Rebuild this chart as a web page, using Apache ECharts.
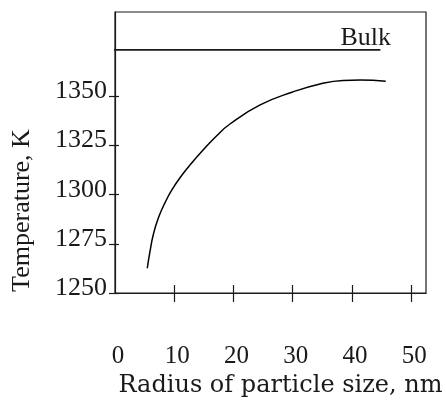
<!DOCTYPE html>
<html>
<head>
<meta charset="utf-8">
<script src="https://cdn.jsdelivr.net/npm/echarts@6/dist/echarts.min.js"></script>
<style>
html,body{margin:0;padding:0;background:#fff;}
#c{width:446px;height:403px;}
</style>
</head>
<body>
<div id="c"></div>
<script>
// Data
const radius = [5.45, 5.9, 6.45, 7.3, 8.45, 9.6, 11.25, 12.95, 14.65, 17.0, 19.4, 24.5, 30.0, 34.6, 38.5, 41.4, 45.7];
const temperature = [1262.6, 1271.0, 1279.5, 1288.0, 1296.0, 1302.5, 1309.8, 1316.2, 1322.0, 1329.5, 1336.0, 1345.7, 1352.3, 1356.4, 1358.2, 1358.4, 1357.7];
const bulkRadius = [-0.8, 44.8];
const bulkTemperature = [1373.7, 1373.7];
const bulkLabel = 'Bulk';
const xTickValues = [10, 20, 30, 40, 50];
const xLabelValues = [0, 10, 20, 30, 40, 50];
const yTickValues = [1250, 1275, 1300, 1325, 1350];
const xName = 'Radius of particle size, nm';
const yName = 'Temperature, K';

const curveData = radius.map((r, i) => [r, temperature[i]]);
const bulkData = bulkRadius.map((r, i) => [r, bulkTemperature[i]]);

const serif = '"Liberation Serif", "Times New Roman", serif';
const ink = '#1a1a1a';

const xBase = {type: 'value', min: 0, max: 52.5, splitLine: {show: false}};
const yBase = {type: 'value', min: 1250, max: 1393, splitLine: {show: false}};

const chart = echarts.init(document.getElementById('c'), null, {renderer: 'canvas'});
chart.setOption({
  backgroundColor: '#fff',
  animation: false,
  grid: {left: 115, right: 20, top: 12, bottom: 110, show: true, borderColor: ink, borderWidth: 1.2},
  xAxis: [
    Object.assign({}, xBase, {
      position: 'bottom',
      axisLine: {show: true, lineStyle: {color: ink, width: 1.2}},
      axisTick: {show: true, inside: false, length: 9, customValues: xTickValues, lineStyle: {color: ink, width: 1.2}},
      axisLabel: {show: true, margin: 51, customValues: xLabelValues, formatter: v => String(v),
        color: ink, fontFamily: serif, fontSize: 25, padding: [0, 0, 0, 6]},
      name: xName, nameLocation: 'middle', nameGap: 80,
      nameTextStyle: {color: ink, fontFamily: '"DejaVu Serif", serif', fontSize: 24, padding: [0, 0, 0, 20]}
    }),
    Object.assign({}, xBase, {
      position: 'bottom',
      axisLine: {show: false},
      axisTick: {show: true, inside: true, length: 8, customValues: xTickValues, lineStyle: {color: ink, width: 1.2}},
      axisLabel: {show: false}
    })
  ],
  yAxis: [
    Object.assign({}, yBase, {
      position: 'left',
      axisLine: {show: true, lineStyle: {color: ink, width: 1.2}},
      axisTick: {show: true, inside: false, length: 6, customValues: yTickValues, lineStyle: {color: ink, width: 1.2}},
      axisLabel: {show: true, margin: 8, customValues: yTickValues, formatter: v => String(v),
        color: ink, fontFamily: serif, fontSize: 26, lineHeight: 10, verticalAlign: 'bottom'},
      name: yName, nameLocation: 'middle', nameGap: 80,
      nameTextStyle: {color: ink, fontFamily: serif, fontSize: 26, padding: [0, 116, 0, 0]}
    }),
    Object.assign({}, yBase, {
      position: 'left',
      axisLine: {show: false},
      axisTick: {show: true, inside: true, length: 4, customValues: yTickValues, lineStyle: {color: ink, width: 1.2}},
      axisLabel: {show: false}
    })
  ],
  series: [
    {
      type: 'line', xAxisIndex: 0, yAxisIndex: 0,
      data: curveData, smooth: 0.5, showSymbol: false, symbol: 'none',
      lineStyle: {color: '#000', width: 1.5}
    },
    {
      type: 'line', xAxisIndex: 0, yAxisIndex: 0, clip: false,
      data: bulkData, showSymbol: false, symbol: 'none',
      lineStyle: {color: ink, width: 1.8},
      endLabel: {
        show: true, formatter: bulkLabel, distance: 0, offset: [-40, -12],
        color: ink, fontFamily: serif, fontSize: 26
      }
    }
  ]
});
</script>
</body>
</html>
